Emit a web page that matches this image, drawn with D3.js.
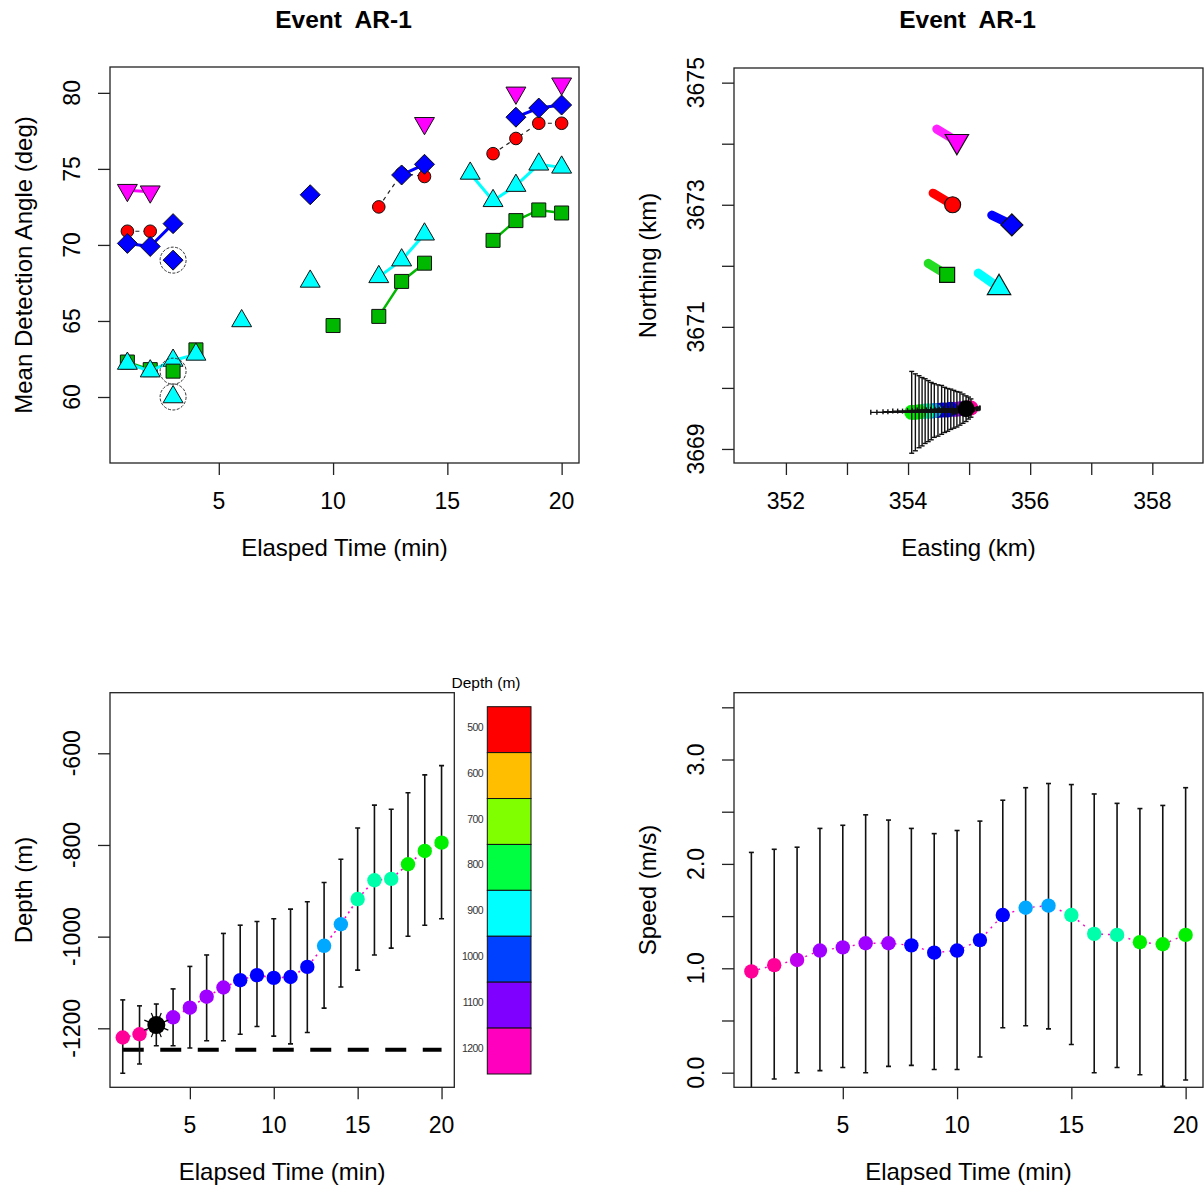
<!DOCTYPE html>
<html><head><meta charset="utf-8">
<script src="https://cdn.jsdelivr.net/npm/d3@7"></script>
<style>
body{margin:0;background:#fff}
text{font-family:"Liberation Sans",Arial,sans-serif;fill:#000}
</style>
</head><body><svg id="c" width="1204" height="1192" xmlns="http://www.w3.org/2000/svg"></svg>
<script>
// ---------------- DATA ----------------
const times = [1,2,3,4,5,6,7,8,9,10,11,12,13,14,15,16,17,18,19,20];
const highlightTime = 3;

// Panel 1: mean detection angle per receiver (null = no detection)
const angleMagenta = [73.6,73.5,null,null,null,null,null,null,null,null,null,null,null,78.0,null,null,null,80.0,null,80.6];
const angleRed     = [70.9,70.9,null,null,null,null,null,null,null,null,null,72.5,74.7,74.5,null,null,76.0,77.0,78.0,78.0];
const angleBlue    = [70.1,69.9,71.4,null,null,null,null,null,73.3,null,null,null,74.6,75.3,null,null,null,78.4,79.0,79.2];
const angleCyan    = [62.2,61.7,62.4,62.8,null,65.0,null,null,67.6,null,null,67.9,69.0,70.7,null,74.7,72.9,73.9,75.3,75.1];
const angleGreen   = [62.3,61.8,null,63.1,null,null,null,null,null,64.7,null,65.3,67.6,68.8,null,null,70.3,71.6,72.3,72.1];
// circled detections at t = 3
const highlightAngleBlue = 69.0, highlightAngleGreen = 61.7, highlightAngleCyan = 60.0;

// Panel 2: receivers (magenta, red, blue, green, cyan)
const receiverEast  = [354.80, 354.73, 355.70, 354.64, 355.49];
const receiverNorth = [3674.04, 3673.00, 3672.67, 3671.85, 3671.64];
const driftEast     = [354.47, 354.41, 355.37, 354.33, 355.15];
const driftNorth    = [3674.24, 3673.19, 3672.83, 3672.04, 3671.88];
// animal track
const trackEast  = [355.03,354.99,354.95,354.90,354.85,354.80,354.75,354.70,354.65,354.60,354.55,354.49,354.43,354.38,354.33,354.28,354.23,354.18,354.12,354.06];
const trackNorth = [3669.67,3669.67,3669.66,3669.66,3669.66,3669.65,3669.65,3669.65,3669.64,3669.64,3669.64,3669.63,3669.63,3669.62,3669.62,3669.62,3669.61,3669.61,3669.60,3669.60];
const trackSD    = [0.15,0.18,0.21,0.24,0.27,0.29,0.31,0.33,0.35,0.37,0.40,0.42,0.44,0.47,0.50,0.53,0.56,0.59,0.63,0.67];

// Panel 3: depth
const depth      = [-1220,-1213,-1193,-1176,-1155,-1131,-1111,-1095,-1084,-1090,-1088,-1066,-1020,-973,-918,-877,-874,-842,-813,-795];
const depthUpper = [-1138,-1151,-1147,-1114,-1065,-1040,-993,-975,-967,-961,-940,-924,-882,-831,-763,-713,-722,-686,-647,-627];
const depthLower = [-1298,-1278,-1238,-1238,-1243,-1227,-1227,-1213,-1196,-1217,-1234,-1209,-1156,-1110,-1073,-1040,-1025,-999,-975,-961];
const seafloorDepth = -1247;

// Panel 4: speed
const speed      = [0.97,1.03,1.08,1.17,1.20,1.24,1.24,1.22,1.15,1.17,1.27,1.51,1.58,1.60,1.51,1.33,1.32,1.25,1.23,1.32];
const speedUpper = [2.11,2.14,2.16,2.34,2.37,2.47,2.42,2.34,2.29,2.32,2.41,2.61,2.73,2.77,2.76,2.67,2.58,2.53,2.56,2.73];
const speedLower = [-0.17,-0.06,0.00,0.02,0.05,0.00,0.06,0.07,0.03,0.03,0.15,0.43,0.45,0.42,0.27,0.00,0.05,-0.02,-0.13,-0.07];

// Legend / color bar
const colorBarLabels = ["500","600","700","800","900","1000","1100","1200"];
const colorBarColors = ["#FF0000","#FFBF00","#80FF00","#00FF40","#00FFFF","#0040FF","#8000FF","#FF00BF"];
const depthBreaks = [-1200,-1180,-1100,-1050,-950,-850];
const depthPointColors = ["#FF0099","#C000EE","#A000FF","#0000FF","#00A8FF","#00FFAA","#00F000"];

// tick values
const timeTicks = [5,10,15,20];
const angleTicks = [60,65,70,75,80];
const eastTicks = [352,353,354,355,356,357,358];
const eastLabels = [352,354,356,358];
const northTicks = [3669,3670,3671,3672,3673,3674,3675];
const northLabels = [3669,3671,3673,3675];
const depthTicks = [-600,-800,-1000,-1200];
const speedTicks = [0,0.5,1,1.5,2,2.5,3,3.5];
const speedLabels = [0,1,2,3];

// ---------------- DRAWING ----------------
const svg = d3.select("#c");
const depthColor = d3.scaleThreshold().domain(depthBreaks).range(depthPointColors);
const AX = "#222";

function shapePath(type, s){
  const h = s*Math.sqrt(3)/2;
  switch(type){
    case "circle": return `M${s},0A${s},${s} 0 1,1 ${-s},0A${s},${s} 0 1,1 ${s},0Z`;
    case "square": return `M${-s},${-s}h${2*s}v${2*s}h${-2*s}Z`;
    case "diamond": return `M0,${-s}L${s},0L0,${s}L${-s},0Z`;
    case "up": return `M0,${-s}L${h},${s/2}L${-h},${s/2}Z`;
    case "down": return `M0,${s}L${h},${-s/2}L${-h},${-s/2}Z`;
  }
}

function frame(b){
  svg.append("rect").attr("x",b.x0).attr("y",b.y0).attr("width",b.x1-b.x0).attr("height",b.y1-b.y0)
    .attr("fill","none").attr("stroke",AX).attr("stroke-width",1.3);
}
function clip(id,b){
  svg.append("clipPath").attr("id",id).append("rect")
    .attr("x",b.x0).attr("y",b.y0).attr("width",b.x1-b.x0).attr("height",b.y1-b.y0);
  return svg.append("g").attr("clip-path",`url(#${id})`);
}
function xAxis(b, sc, ticks, labels, fmt){
  const g = svg.append("g").attr("transform",`translate(0,${b.y1})`);
  g.call(d3.axisBottom(sc).tickValues(ticks).tickSize(12).tickFormat(""));
  g.select(".domain").remove();
  g.selectAll(".tick line").attr("stroke",AX).attr("stroke-width",1.3);
  labels.forEach(v=>{
    svg.append("text").attr("x",sc(v)).attr("y",b.y1+46).attr("text-anchor","middle")
      .style("font-size","23px").text(fmt? fmt(v): v);
  });
}
function yAxis(b, sc, ticks, labels, fmt){
  const g = svg.append("g").attr("transform",`translate(${b.x0},0)`);
  g.call(d3.axisLeft(sc).tickValues(ticks).tickSize(12).tickFormat(""));
  g.select(".domain").remove();
  g.selectAll(".tick line").attr("stroke",AX).attr("stroke-width",1.3);
  labels.forEach(v=>{
    svg.append("text").attr("transform",`translate(${b.x0-30},${sc(v)}) rotate(-90)`)
      .attr("text-anchor","middle").style("font-size","23px").text(fmt? fmt(v): v);
  });
}
function xTitle(b, t){
  svg.append("text").attr("x",(b.x0+b.x1)/2).attr("y",b.y1+93).attr("text-anchor","middle")
    .style("font-size","24px").text(t);
}
function yTitle(b, t){
  svg.append("text").attr("transform",`translate(${b.x0-78},${(b.y0+b.y1)/2}) rotate(-90)`)
    .attr("text-anchor","middle").style("font-size","24px").text(t);
}
function title(b, t){
  svg.append("text").attr("x",(b.x0+b.x1)/2 - 1).attr("y",28).attr("text-anchor","middle")
    .style("font-size","24.5px").style("font-weight","bold").style("white-space","pre").text(t);
}

// ===== Panel 1 =====
const b1 = {x0:110,x1:579,y0:67,y1:463};
const x1s = d3.scaleLinear([0.24,20.76],[b1.x0,b1.x1]);
const y1s = d3.scaleLinear([55.66,81.7],[b1.y1,b1.y0]);
const g1 = clip("c1",b1);
const series1 = [
  {vals:angleGreen, shape:"square", size:7, fill:"#00B800", line:"#00B800", lw:2.5},
  {vals:angleCyan, shape:"up", size:11.5, fill:"#00FFFF", line:"#00FFFF", lw:3},
  {vals:angleRed, shape:"circle", size:6.3, fill:"#FF0000", line:"#222", lw:1.2, dash:"4,4"},
  {vals:angleBlue, shape:"diamond", size:10, fill:"#0000FF", line:"#0000FF", lw:3},
  {vals:angleMagenta, shape:"down", size:11.5, fill:"#FF00FF", line:"#FF00FF", lw:3},
];
series1.forEach(s=>{
  const line = d3.line().defined((d,i)=>s.vals[i]!=null).x((d,i)=>x1s(times[i])).y((d,i)=>y1s(s.vals[i]));
  g1.append("path").attr("d",line(times)).attr("fill","none").attr("stroke",s.line)
    .attr("stroke-width",s.lw).attr("stroke-dasharray",s.dash||null);
  times.forEach((t,i)=>{
    if(s.vals[i]==null) return;
    g1.append("path").attr("d",shapePath(s.shape,s.size))
      .attr("transform",`translate(${x1s(t)},${y1s(s.vals[i])})`)
      .attr("fill",s.fill).attr("stroke","#111").attr("stroke-width",1);
  });
});
[[highlightAngleBlue,"diamond",10,"#0000FF"],[highlightAngleGreen,"square",7,"#00B800"],[highlightAngleCyan,"up",11.5,"#00FFFF"]]
 .forEach(([v,sh,sz,col])=>{
  g1.append("path").attr("d",shapePath(sh,sz)).attr("transform",`translate(${x1s(highlightTime)},${y1s(v)})`)
    .attr("fill",col).attr("stroke","#111").attr("stroke-width",1);
  g1.append("circle").attr("cx",x1s(highlightTime)).attr("cy",y1s(v)).attr("r",13)
    .attr("fill","none").attr("stroke","#333").attr("stroke-width",1).attr("stroke-dasharray","3,1.5");
});
frame(b1);
xAxis(b1,x1s,timeTicks,timeTicks);
yAxis(b1,y1s,angleTicks,angleTicks);
xTitle(b1,"Elasped Time (min)");
yTitle(b1,"Mean Detection Angle (deg)");
title(b1,"Event  AR-1");

// ===== Panel 2 =====
const b2 = {x0:734,x1:1203,y0:68,y1:463};
const x2s = d3.scaleLinear([351.15,358.83],[b2.x0,b2.x1]);
const y2s = d3.scaleLinear([3668.77,3675.24],[b2.y1,b2.y0]);
const g2 = clip("c2",b2);
const recStyles = [
  {shape:"down",size:13.5,fill:"#FF00FF",trail:"#FF22FF"},
  {shape:"circle",size:8,fill:"#FF0000",trail:"#FF0000"},
  {shape:"diamond",size:11,fill:"#0000FF",trail:"#0000FF"},
  {shape:"square",size:7.5,fill:"#00C000",trail:"#22DD22"},
  {shape:"up",size:13.5,fill:"#00FFFF",trail:"#00FFFF"},
];
receiverEast.forEach((e,i)=>{
  const st = recStyles[i];
  g2.append("line").attr("x1",x2s(driftEast[i])).attr("y1",y2s(driftNorth[i]))
    .attr("x2",x2s(e)).attr("y2",y2s(receiverNorth[i]))
    .attr("stroke",st.trail).attr("stroke-width",9).attr("stroke-linecap","round");
  g2.append("path").attr("d",shapePath(st.shape,st.size))
    .attr("transform",`translate(${x2s(e)},${y2s(receiverNorth[i])})`)
    .attr("fill",st.fill).attr("stroke","#111").attr("stroke-width",1.2);
});
// track dots
times.forEach((t,i)=>{
  g2.append("circle").attr("cx",x2s(trackEast[i])).attr("cy",y2s(trackNorth[i])).attr("r",7.5)
    .attr("fill",depthColor(depth[i]));
});
// track error bars
times.forEach((t,i)=>{
  const cx = x2s(trackEast[i]), cy = y2s(trackNorth[i]);
  const yT = y2s(trackNorth[i]+trackSD[i]), yB = y2s(trackNorth[i]-trackSD[i]);
  const xL = x2s(trackEast[i]-trackSD[i]), xR = x2s(trackEast[i]+trackSD[i]);
  const g = g2.append("g").attr("stroke","#111").attr("stroke-width",1.4);
  g.append("line").attr("x1",cx).attr("x2",cx).attr("y1",yT).attr("y2",yB);
  g.append("line").attr("x1",cx-2.5).attr("x2",cx+2.5).attr("y1",yT).attr("y2",yT);
  g.append("line").attr("x1",cx-2.5).attr("x2",cx+2.5).attr("y1",yB).attr("y2",yB);
  g.append("line").attr("x1",xL).attr("x2",xR).attr("y1",cy).attr("y2",cy);
  g.append("line").attr("x1",xL).attr("x2",xL).attr("y1",cy-2.5).attr("y2",cy+2.5);
  g.append("line").attr("x1",xR).attr("x2",xR).attr("y1",cy-2.5).attr("y2",cy+2.5);
});
{
  const i = times.indexOf(highlightTime);
  g2.append("circle").attr("cx",x2s(trackEast[i])).attr("cy",y2s(trackNorth[i])).attr("r",8.5).attr("fill","#000");
}
frame(b2);
xAxis(b2,x2s,eastTicks,eastLabels);
yAxis(b2,y2s,northTicks,northLabels);
xTitle(b2,"Easting (km)");
yTitle(b2,"Northing (km)");
title(b2,"Event  AR-1");

// ===== Panel 3 =====
const b3 = {x0:110,x1:454.3,y0:692.7,y1:1087.3};
const x3s = d3.scaleLinear([0.24,20.76],[b3.x0,b3.x1]);
const y3s = d3.scaleLinear([-1328.7,-467.8],[b3.y1,b3.y0]);
const g3 = clip("c3",b3);
g3.append("line").attr("x1",x3s(times[0])).attr("x2",x3s(times[times.length-1]))
  .attr("y1",y3s(seafloorDepth)).attr("y2",y3s(seafloorDepth))
  .attr("stroke","#000").attr("stroke-width",4).attr("stroke-dasharray","21,16.5");
const line3 = d3.line().x((d,i)=>x3s(times[i])).y((d,i)=>y3s(depth[i]));
g3.append("path").attr("d",line3(times)).attr("fill","none").attr("stroke","#FF00CC")
  .attr("stroke-width",1.6).attr("stroke-dasharray","2,4");
times.forEach((t,i)=>{
  const cx = x3s(t), yT = y3s(depthUpper[i]), yB = y3s(depthLower[i]);
  const g = g3.append("g").attr("stroke","#111").attr("stroke-width",1.6);
  g.append("line").attr("x1",cx).attr("x2",cx).attr("y1",yT).attr("y2",yB);
  g.append("line").attr("x1",cx-2.5).attr("x2",cx+2.5).attr("y1",yT).attr("y2",yT);
  g.append("line").attr("x1",cx-2.5).attr("x2",cx+2.5).attr("y1",yB).attr("y2",yB);
});
times.forEach((t,i)=>{
  if(t===highlightTime) return;
  g3.append("circle").attr("cx",x3s(t)).attr("cy",y3s(depth[i])).attr("r",7.2)
    .attr("fill",depthColor(depth[i]));
});
{
  const i = times.indexOf(highlightTime);
  const cx = x3s(highlightTime), cy = y3s(depth[i]);
  const g = g3.append("g");
  d3.range(8).forEach(k=>{
    const a = k*Math.PI/4 + Math.PI/8;
    g.append("line").attr("x1",cx).attr("y1",cy).attr("x2",cx+13*Math.cos(a)).attr("y2",cy+13*Math.sin(a))
      .attr("stroke","#000").attr("stroke-width",1.2);
  });
  g.append("circle").attr("cx",cx).attr("cy",cy).attr("r",9).attr("fill","#000");
}
frame(b3);
xAxis(b3,x3s,timeTicks,timeTicks);
yAxis(b3,y3s,depthTicks,depthTicks);
xTitle(b3,"Elapsed Time (min)");
yTitle(b3,"Depth (m)");

// color bar
const cbY = d3.scaleBand().domain(colorBarLabels).range([706.7,1074]);
colorBarLabels.forEach((lab,i)=>{
  svg.append("rect").attr("x",487.3).attr("y",cbY(lab)).attr("width",43.7).attr("height",cbY.bandwidth())
    .attr("fill",colorBarColors[i]).attr("stroke","#111").attr("stroke-width",1);
  svg.append("text").attr("x",483).attr("y",cbY(lab)+cbY.bandwidth()/2).attr("dy","0.1em")
    .attr("text-anchor","end").style("font-size","10.5px").style("letter-spacing","-0.6px")
    .style("fill","#333").text(lab);
});
svg.append("text").attr("x",486).attr("y",688).attr("text-anchor","middle")
  .style("font-size","15.5px").text("Depth (m)");

// ===== Panel 4 =====
const b4 = {x0:734,x1:1203,y0:692.7,y1:1087.3};
const x4s = d3.scaleLinear([0.24,20.76],[b4.x0,b4.x1]);
const y4s = d3.scaleLinear([-0.14,3.64],[b4.y1,b4.y0]);
const g4 = clip("c4",b4);
const line4 = d3.line().x((d,i)=>x4s(times[i])).y((d,i)=>y4s(speed[i]));
g4.append("path").attr("d",line4(times)).attr("fill","none").attr("stroke","#FF00CC")
  .attr("stroke-width",1.4).attr("stroke-dasharray","2,5");
times.forEach((t,i)=>{
  const cx = x4s(t), yT = y4s(speedUpper[i]), yB = y4s(speedLower[i]);
  const g = g4.append("g").attr("stroke","#111").attr("stroke-width",1.6);
  g.append("line").attr("x1",cx).attr("x2",cx).attr("y1",yT).attr("y2",yB);
  g.append("line").attr("x1",cx-2.5).attr("x2",cx+2.5).attr("y1",yT).attr("y2",yT);
  g.append("line").attr("x1",cx-2.5).attr("x2",cx+2.5).attr("y1",yB).attr("y2",yB);
});
times.forEach((t,i)=>{
  g4.append("circle").attr("cx",x4s(t)).attr("cy",y4s(speed[i])).attr("r",7.2)
    .attr("fill",depthColor(depth[i]));
});
frame(b4);
xAxis(b4,x4s,timeTicks,timeTicks);
yAxis(b4,y4s,speedTicks,speedLabels,v=>v.toFixed(1));
xTitle(b4,"Elapsed Time (min)");
yTitle(b4,"Speed (m/s)");
</script>
</body></html>
